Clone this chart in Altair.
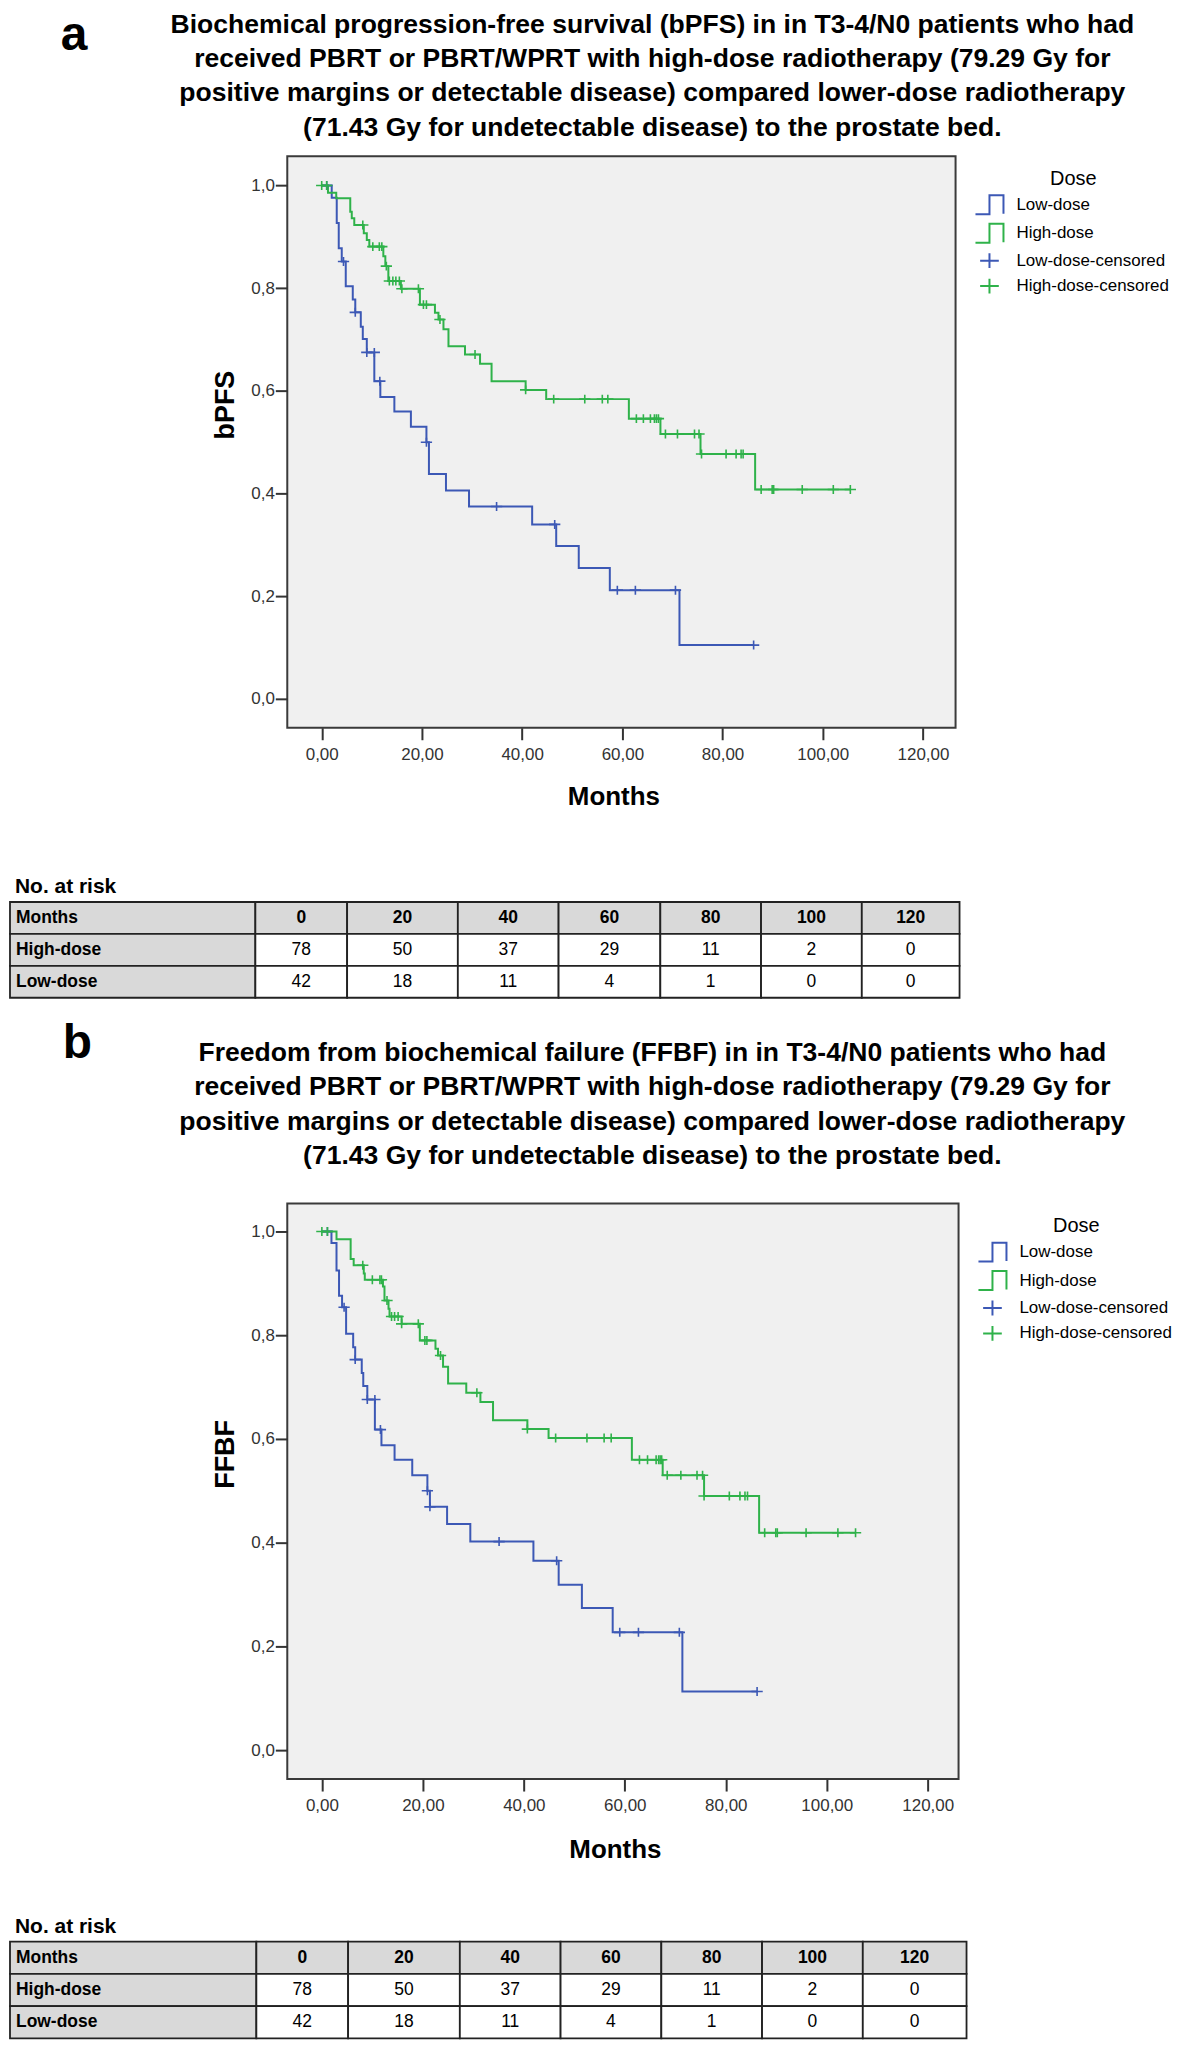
import altair as alt
import pandas as pd

FONT = "Liberation Sans, Arial, Helvetica, sans-serif"
BLUE = "#3c58b5"
GREEN = "#2fb24a"
SERIES = ["Low-dose", "High-dose", "Low-dose-censored", "High-dose-censored"]
CURVES = ["Low-dose", "High-dose"]
STEP = "M-1.17,0.79H0V-0.79H1.17V0.75"
PLUS = "M-0.78,0H0.78M0,-0.62V0.62"

# ---------------- Panel a (bPFS) ----------------
A_LOW_T = [0.0, 2.0, 3.0, 3.4, 4.0, 4.8, 6.2, 6.7, 7.8, 8.2, 9.0, 10.5, 11.7, 14.5, 17.8, 20.9, 21.4, 24.8, 29.4, 42.0, 46.8, 51.3, 57.5, 71.4, 86.2]
A_LOW_S = [1.000, 0.976, 0.927, 0.878, 0.852, 0.804, 0.778, 0.753, 0.725, 0.701, 0.675, 0.619, 0.588, 0.560, 0.530, 0.500, 0.438, 0.406, 0.375, 0.340, 0.298, 0.255, 0.212, 0.105, 0.105]
A_HIGH_T = [0.0, 1.25, 2.9, 5.7, 6.0, 6.5, 8.4, 9.0, 9.5, 12.3, 12.7, 13.3, 15.8, 19.6, 22.6, 23.3, 24.3, 25.3, 28.6, 31.6, 33.9, 40.7, 44.8, 61.3, 67.6, 75.6, 86.5, 105.5]
A_HIGH_S = [1.000, 0.986, 0.975, 0.949, 0.936, 0.923, 0.907, 0.894, 0.881, 0.862, 0.843, 0.814, 0.799, 0.768, 0.752, 0.739, 0.720, 0.687, 0.671, 0.653, 0.619, 0.602, 0.584, 0.546, 0.516, 0.477, 0.408, 0.408]
A_LOW_CT = [1.0, 4.35, 6.7, 9.0, 10.5, 11.6, 20.9, 34.9, 46.5, 59.0, 62.6, 70.6, 86.2]
A_LOW_CS = [1.000, 0.852, 0.753, 0.675, 0.675, 0.619, 0.500, 0.375, 0.340, 0.212, 0.212, 0.212, 0.105]
A_HIGH_CT = [0.0, 1.0, 8.2, 10.2, 11.5, 12.0, 12.9, 13.5, 14.2, 14.8, 15.5, 16.0, 19.3, 20.3, 20.9, 23.6, 30.6, 40.7,
             46.3, 52.5, 56.0, 57.1, 62.8, 64.2, 65.6, 66.4, 66.8, 67.2, 68.6, 71.0, 74.4, 75.3,
             75.8, 80.7, 82.7, 83.7, 84.1, 87.7, 89.9, 90.2, 95.9, 102.1, 105.5]
A_HIGH_CS = [1.0, 1.0, 0.923, 0.881, 0.881, 0.881, 0.843, 0.814, 0.814, 0.814, 0.814, 0.799, 0.799, 0.768, 0.768, 0.739, 0.671, 0.602,
             0.584, 0.584, 0.584, 0.584, 0.546, 0.546, 0.546, 0.546, 0.546, 0.546, 0.516, 0.516, 0.516, 0.516,
             0.477, 0.477, 0.477, 0.477, 0.477, 0.408, 0.408, 0.408, 0.408, 0.408, 0.408]

# ---------------- Panel b (FFBF) ----------------
B_LOW_T = [0.0, 1.9, 2.9, 3.4, 4.0, 4.8, 6.2, 6.6, 7.9, 8.2, 9.0, 10.5, 11.8, 14.4, 17.9, 20.9, 21.4, 24.8, 29.4, 41.9, 46.9, 51.5, 57.6, 71.4, 86.2]
B_LOW_S = [1.000, 0.978, 0.925, 0.876, 0.854, 0.803, 0.777, 0.753, 0.727, 0.702, 0.676, 0.618, 0.588, 0.560, 0.530, 0.500, 0.469, 0.436, 0.402, 0.365, 0.319, 0.274, 0.227, 0.113, 0.113]
B_HIGH_T = [0.0, 2.9, 5.7, 6.3, 8.3, 8.5, 12.1, 12.4, 13.2, 13.4, 15.8, 19.4, 22.5, 23.0, 24.0, 25.0, 28.6, 31.4, 33.9, 40.7, 44.9, 61.4, 67.5, 75.7, 86.6, 105.7]
B_HIGH_S = [1.000, 0.985, 0.947, 0.935, 0.919, 0.907, 0.894, 0.867, 0.851, 0.836, 0.822, 0.790, 0.774, 0.761, 0.739, 0.707, 0.689, 0.671, 0.636, 0.619, 0.602, 0.560, 0.530, 0.490, 0.419, 0.419]
B_LOW_CT = [1.1, 4.4, 6.6, 9.0, 10.5, 11.6, 20.9, 21.4, 35.1, 46.5, 59.0, 62.7, 70.8, 86.2]
B_LOW_CS = [1.000, 0.854, 0.753, 0.676, 0.676, 0.618, 0.500, 0.469, 0.402, 0.365, 0.227, 0.227, 0.227, 0.113]
B_HIGH_CT = [0.0, 1.1, 8.1, 10.0, 11.5, 11.8, 12.9, 13.8, 14.4, 15.1, 15.8, 19.1, 20.4, 20.8, 23.5, 30.7, 40.7,
             46.3, 52.5, 55.9, 57.3, 62.9, 64.5, 66.2, 66.7, 67.0, 67.3, 68.4, 71.1, 74.3, 75.4,
             75.7, 80.7, 82.8, 83.8, 84.3, 87.7, 89.9, 90.2, 95.9, 102.2, 105.7]
B_HIGH_CS = [1.0, 1.0, 0.935, 0.907, 0.907, 0.907, 0.867, 0.836, 0.836, 0.836, 0.822, 0.822, 0.790, 0.790, 0.761, 0.689, 0.619,
             0.602, 0.602, 0.602, 0.602, 0.560, 0.560, 0.560, 0.560, 0.560, 0.560, 0.530, 0.530, 0.530, 0.530,
             0.490, 0.490, 0.490, 0.490, 0.490, 0.419, 0.419, 0.419, 0.419, 0.419, 0.419]

# ---------------- Number at risk ----------------
ROWS = ["Months", "High-dose", "Low-dose"]
RISK_MONTHS = [0, 20, 40, 60, 80, 100, 120]
RISK_HIGH = [78, 50, 37, 29, 11, 2, 0]
RISK_LOW = [42, 18, 11, 4, 1, 0, 0]

X_TICKS = [0, 20, 40, 60, 80, 100, 120]
Y_TICKS = [0.0, 0.2, 0.4, 0.6, 0.8, 1.0]

COMMON_LINES = [
    "received PBRT or PBRT/WPRT with high-dose radiotherapy (79.29 Gy for",
    "positive margins or detectable disease) compared lower-dose radiotherapy",
    "(71.43 Gy for undetectable disease) to the prostate bed.",
]
TITLE_A = ["Biochemical progression-free survival (bPFS) in in T3-4/N0 patients who had"] + COMMON_LINES
TITLE_B = ["Freedom from biochemical failure (FFBF) in in T3-4/N0 patients who had"] + COMMON_LINES

GEO_A = dict(w=670, h=573, xdom=[-6.87, 126.5], ydom=[-0.056, 1.057], title_x=366, title_y=-124,
             letter_x=-227, letter_y=-107, ytitle_y=249, xtitle_y=76.7, leg=(691, 12.7),
             risk_y=738.7, rows=[747.7, 843.7], cols=[-278, -32, 60, 171, 272, 374, 475, 576, 674])
GEO_B = dict(w=673, h=577, xdom=[-6.85, 126.1], ydom=[-0.056, 1.054], title_x=366, title_y=-143,
             letter_x=-225, letter_y=-146, ytitle_y=251, xtitle_y=78.7, leg=(694, 12.7),
             risk_y=731, rows=[740, 837], cols=[-278, -31, 61, 173, 274, 375, 476, 577, 681])


def panel(low_t, low_s, high_t, high_s, lct, lcs, hct, hcs, title_lines, letter, ytitle, g):
    curves = pd.DataFrame({
        "t": low_t + high_t,
        "s": low_s + high_s,
        "curve": ["Low-dose"] * len(low_t) + ["High-dose"] * len(high_t),
    })
    cens = pd.DataFrame({
        "t": lct + hct,
        "s": lcs + hcs,
        "series": ["Low-dose-censored"] * len(lct) + ["High-dose-censored"] * len(hct),
    })
    color_scale = alt.Scale(domain=SERIES, range=[BLUE, GREEN, BLUE, GREEN])
    shape_scale = alt.Scale(domain=SERIES, range=[STEP, STEP, PLUS, PLUS])
    legend = alt.Legend(title="Dose", orient="none", legendX=g["leg"][0], legendY=g["leg"][1],
                        titleFont=FONT, titleFontSize=20, titleFontWeight="normal", titleColor="black",
                        titleAnchor="middle", titlePadding=3, labelFont=FONT, labelFontSize=17,
                        labelColor="black", labelOffset=14, symbolSize=576, symbolStrokeWidth=2,
                        rowPadding=0.5, padding=0)
    xenc = alt.X("t:Q", scale=alt.Scale(domain=g["xdom"], nice=False, zero=False),
                 axis=alt.Axis(values=X_TICKS, title="Months", grid=False, domain=False,
                               labelExpr="replace(format(datum.value, '.2f'), '.', ',')",
                               tickSize=12, tickWidth=2, tickColor="#333333", labelFlush=False,
                               labelFont=FONT, labelFontSize=17, labelColor="#333333", labelPadding=7,
                               titleFont=FONT, titleFontSize=26, titleFontWeight="bold", titleColor="black",
                               titleX=g["w"] / 2 - 8, titleY=g["xtitle_y"], titleBaseline="alphabetic",
                               titleAlign="center"))
    yenc = alt.Y("s:Q", scale=alt.Scale(domain=g["ydom"], nice=False, zero=False),
                 axis=alt.Axis(values=Y_TICKS, title=ytitle, grid=False, domain=False,
                               labelExpr="replace(format(datum.value, '.1f'), '.', ',')",
                               tickSize=12, tickWidth=2, tickColor="#333333", labelFlush=False,
                               labelFont=FONT, labelFontSize=17, labelColor="#333333", labelPadding=1,
                               titleFont=FONT, titleFontSize=27, titleFontWeight="bold", titleColor="black",
                               titleX=-53.7, titleY=g["ytitle_y"], titleAngle=270,
                               titleBaseline="alphabetic", titleAlign="center"))
    # curves: stroke scale with its own domain, so its (disabled) legend never merges with the Dose legend
    lines = alt.Chart(curves).mark_line(interpolate="step-after", strokeWidth=2).encode(
        x=xenc, y=yenc,
        stroke=alt.Stroke("curve:N", scale=alt.Scale(domain=CURVES, range=[BLUE, GREEN]), legend=None),
        detail="curve:N",
    )
    pts = alt.Chart(cens).mark_point(filled=False, size=210, strokeWidth=1.6, opacity=1).encode(
        x=xenc, y=yenc,
        color=alt.Color("series:N", scale=color_scale, legend=legend),
        shape=alt.Shape("series:N", scale=shape_scale, legend=legend),
    )
    km = alt.layer(lines, pts)

    # table
    cells = []
    for row in ROWS:
        for c in range(8):
            if c == 0:
                txt, kind = row, "label"
            elif row == "Months":
                txt, kind = str(RISK_MONTHS[c - 1]), "head"
            elif row == "High-dose":
                txt, kind = str(RISK_HIGH[c - 1]), "body"
            else:
                txt, kind = str(RISK_LOW[c - 1]), "body"
            cells.append({"row": row, "c": c, "txt": txt, "kind": kind})
    tbl = pd.DataFrame(cells)
    tx = alt.Scale(domain=list(range(9)), range=g["cols"], nice=False, zero=False)
    ty = alt.Scale(domain=ROWS, range=g["rows"], paddingInner=0, paddingOuter=0)
    yrow = alt.Y("row:N", scale=ty, axis=None, sort=ROWS)
    base = alt.Chart(tbl).transform_calculate(c1="datum.c + 1", cm="datum.c + 0.5")
    rects = base.mark_rect(stroke="#222222", strokeWidth=1.8).encode(
        x=alt.X("c:Q", scale=tx, axis=None), x2="c1:Q", y=yrow,
        fill=alt.condition("datum.kind != 'body'", alt.value("#d9d9d9"), alt.value("#ffffff")),
    )
    labs = base.transform_filter("datum.kind == 'label'").mark_text(
        align="left", baseline="middle", dx=6, fontSize=17.5, fontWeight="bold", color="black"
    ).encode(x=alt.X("c:Q", scale=tx, axis=None), y=yrow, text="txt:N")
    heads = base.transform_filter("datum.kind == 'head'").mark_text(
        align="center", baseline="middle", fontSize=17.5, fontWeight="bold", color="black"
    ).encode(x=alt.X("cm:Q", scale=tx, axis=None), y=yrow, text="txt:N")
    bodies = base.transform_filter("datum.kind == 'body'").mark_text(
        align="center", baseline="middle", fontSize=17.5, fontWeight="normal", color="black"
    ).encode(x=alt.X("cm:Q", scale=tx, axis=None), y=yrow, text="txt:N")
    table = alt.layer(rects, labs, heads, bodies)

    one = pd.DataFrame({"k": [0]})
    title = alt.Chart(one).mark_text(align="center", baseline="alphabetic", fontSize=26.6, fontWeight="bold",
                                     lineHeight=34.5, color="black").encode(
        x=alt.value(g["title_x"]), y=alt.value(g["title_y"]), text=alt.value(title_lines))
    let = alt.Chart(one).mark_text(align="left", baseline="alphabetic", fontSize=48, fontWeight="bold",
                                   color="black").encode(
        x=alt.value(g["letter_x"]), y=alt.value(g["letter_y"]), text=alt.value(letter))
    risk = alt.Chart(one).mark_text(align="left", baseline="alphabetic", fontSize=21, fontWeight="bold",
                                    color="black").encode(
        x=alt.value(g["cols"][0] + 5), y=alt.value(g["risk_y"]), text=alt.value("No. at risk"))

    return alt.layer(km, table, title, let, risk).resolve_scale(
        x="independent", y="independent").properties(width=g["w"], height=g["h"])


panel_a = panel(A_LOW_T, A_LOW_S, A_HIGH_T, A_HIGH_S, A_LOW_CT, A_LOW_CS, A_HIGH_CT, A_HIGH_CS,
                TITLE_A, "a", "bPFS", GEO_A)
panel_b = panel(B_LOW_T, B_LOW_S, B_HIGH_T, B_HIGH_S, B_LOW_CT, B_LOW_CS, B_HIGH_CT, B_HIGH_CS,
                TITLE_B, "b", "FFBF", GEO_B)

chart = alt.vconcat(panel_a, panel_b, spacing=19).resolve_scale(
    color="independent", shape="independent", stroke="independent"
).resolve_legend(color="independent", shape="independent", stroke="independent").properties(
    padding=0).configure(font=FONT).configure_view(fill="#f0f0f0", stroke="#3a3a3a", strokeWidth=2)

chart.save("out.html", embed_options={"renderer": "svg", "actions": False})
